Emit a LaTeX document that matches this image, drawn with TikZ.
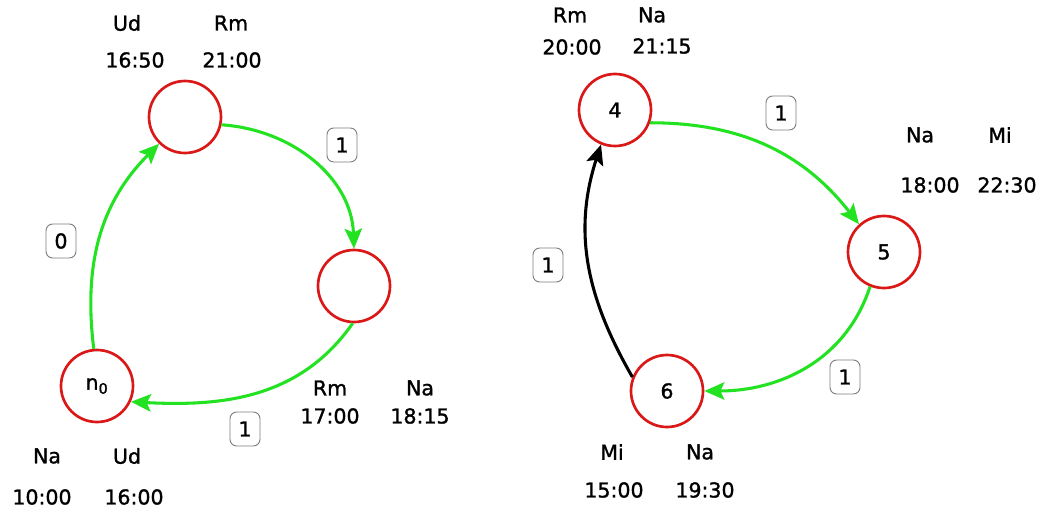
\documentclass[tikz,border=0pt]{standalone}
\usepackage{fontspec}
\setmainfont{DejaVu Sans}
\newfontfamily\labfam{DejaVu Sans}[FakeBold=1.3]
\usetikzlibrary{arrows.meta}
\definecolor{nodered}{RGB}{218,24,24}
\definecolor{edgegreen}{RGB}{34,226,34}
\definecolor{boxgray}{RGB}{125,125,125}
\newcommand{\labfont}{\labfam\fontsize{15.4pt}{18pt}\selectfont}
\begin{document}
\begin{tikzpicture}[x=0.75pt,y=-0.75pt,
  state/.style={circle,draw=nodered,line width=2pt,minimum size=54pt,inner sep=0pt,font=\labfont},
  lab/.style={inner sep=0pt,font=\labfont},
  weight/.style={draw=boxgray,fill=white,rounded corners=5pt,line width=0.7pt,
    minimum width=22.5pt,minimum height=25.5pt,inner sep=0pt,font=\labfont},
  link/.style={line width=2.3pt,-{Stealth[length=15pt,width=13pt,inset=3pt]}},
  good/.style={link,draw=edgegreen},
  bad/.style={link,draw=black}]
\useasboundingbox (0,0) rectangle (1049,514);

% ---- left cycle ----
\node[state] (A) at (185,117) {};
\node[state] (B) at (354,286) {};
\node[state] (N) at (97,386) {n\textsubscript{0}};

\node[lab] (Aud) at (127,23) {Ud};
\node[lab] (Arm) at (231,23) {Rm};
\node[lab] (Aut) at (135,60) {16:50};
\node[lab] (Art) at (232,60) {21:00};

\node[lab] (Brm) at (330,388) {Rm};
\node[lab] (Bna) at (420,388) {Na};
\node[lab] (Brt) at (330,416) {17:00};
\node[lab] (Bnt) at (420,416) {18:15};

\node[lab] (Nna) at (47,456) {Na};
\node[lab] (Nud) at (127,456) {Ud};
\node[lab] (Nnt) at (42,497) {10:00};
\node[lab] (Nut) at (134,497) {16:00};

\draw[good] (N.95) to[out=97,in=225] (A.226);
\draw[good] (A.-12) to[out=-4,in=92] (B.90);
\draw[good] (B.-92) to[out=-125,in=-3] (N.-25);

\node[weight] (w0) at (61,241) {0};
\node[weight] (w1) at (342,145) {1};
\node[weight] (w2) at (245,429) {1};

% ---- right cycle ----
\node[state] (S4) at (615,110) {4};
\node[state] (S5) at (884,252) {5};
\node[state] (S6) at (667,391) {6};

\node[lab] (Crm) at (570,15) {Rm};
\node[lab] (Cna) at (652,15) {Na};
\node[lab] (Crt) at (572,47) {20:00};
\node[lab] (Cnt) at (662,46) {21:15};

\node[lab] (Dna) at (920,135) {Na};
\node[lab] (Dmi) at (1000,135) {Mi};
\node[lab] (Dnt) at (930,185) {18:00};
\node[lab] (Dmt) at (1007,185) {22:30};

\node[lab] (Emi) at (612,452) {Mi};
\node[lab] (Ena) at (700,452) {Na};
\node[lab] (Emt) at (614,490) {15:00};
\node[lab] (Ent) at (705,490) {19:30};

\draw[good] (S4.-20) to[out=0,in=128] (S5.132);
\draw[good] (S5.-112) to[out=-108,in=0] (S6.0);
\draw[bad] (S6.158) to[out=120,in=252] (S4.-112);

\node[weight] (w3) at (781,113) {1};
\node[weight] (w4) at (548,265) {1};
\node[weight] (w5) at (845,377) {1};
\end{tikzpicture}
\end{document}
